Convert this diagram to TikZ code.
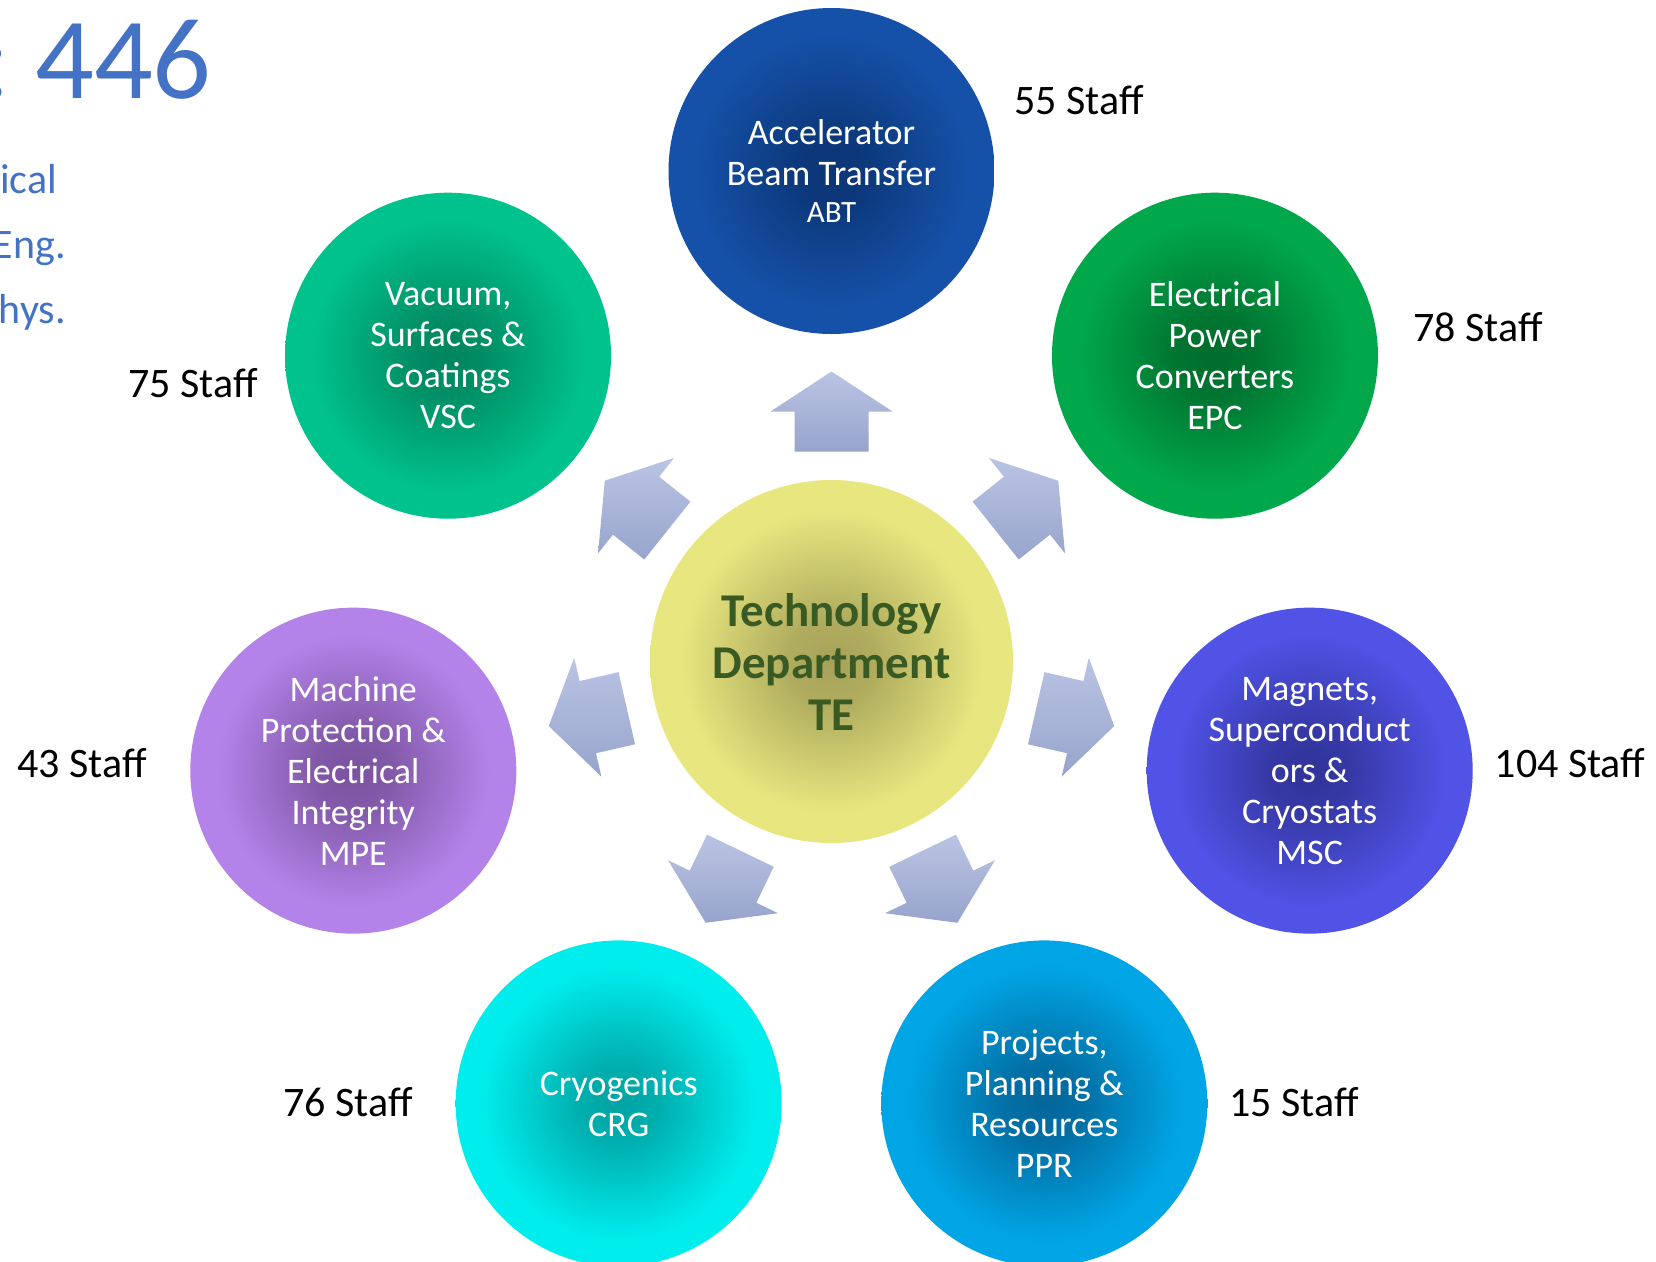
\documentclass[tikz,border=0pt]{standalone}
\usepackage{fontspec}
\setmainfont{Carlito}
\usetikzlibrary{calc}

% palette
\definecolor{titleblue}{HTML}{4472C4}
\definecolor{tegreen}{HTML}{3A5A23}
\definecolor{spoketop}{HTML}{BAC4E4}
\definecolor{spokebot}{HTML}{97A4CC}
\definecolor{abtin}{HTML}{0B3575}\definecolor{abtout}{HTML}{1551A8}
\definecolor{epcin}{HTML}{006C2C}\definecolor{epcout}{HTML}{00A84B}
\definecolor{vscin}{HTML}{00855E}\definecolor{vscout}{HTML}{00C28D}
\definecolor{mscin}{HTML}{313399}\definecolor{mscout}{HTML}{5053E6}
\definecolor{pprin}{HTML}{03669A}\definecolor{pprout}{HTML}{00A5E5}
\definecolor{crgin}{HTML}{00A3A3}\definecolor{crgout}{HTML}{00EDED}
\definecolor{mpein}{HTML}{7A529E}\definecolor{mpeout}{HTML}{B483EA}
\definecolor{tein}{HTML}{A6A259}\definecolor{teout}{HTML}{E8E77F}

% radial fill: dark core fading to the rim colour (the rim sits at 25bp)
\colorlet{orbin}{black}\colorlet{orbout}{white}
\pgfdeclareradialshading[orbin,orbout]{orb}{\pgfpoint{0bp}{0bp}}%
  {color(0bp)=(orbin); color(6bp)=(orbin!85!orbout); color(13bp)=(orbin!45!orbout);
   color(21bp)=(orbout); color(25bp)=(orbout); color(50bp)=(orbout)}

\tikzset{
  orbfill/.style 2 args={/utils/exec={\colorlet{orbin}{#1}\colorlet{orbout}{#2}},
    shade, shading=orb},
  unit/.style 2 args={circle, minimum size=326pt, inner sep=0pt, orbfill={#1}{#2},
    text=white, align=center, font=\fontsize{36}{41}\selectfont},
  hub/.style={circle, minimum size=363pt, inner sep=0pt, orbfill={tein}{teout},
    text=tegreen, align=center, font=\bfseries\fontsize{47}{52}\selectfont},
  staff/.style={inner sep=0pt, text=black, font=\fontsize{42}{50}\selectfont},
  sidetext/.style={anchor=base east, inner sep=0pt, text=titleblue,
    font=\fontsize{42}{50}\selectfont},
  bigtext/.style={inner sep=0pt, text=titleblue, font=\fontsize{116}{116}\selectfont},
  spokefill/.style={top color=spoketop, bottom color=spokebot, draw=none},
}

% block arrow pointing out of the hub at screen angle #1
\newcommand\spoke[1]{%
  \path[spokefill]
    ($(te.center)+(#1:210)+(#1+90:37)$)
    -- ($(te.center)+(#1:250)+(#1+90:37)$)
    -- ($(te.center)+(#1:250)+(#1+90:61)$)
    -- ($(te.center)+(#1:290)$)
    -- ($(te.center)+(#1:250)+(#1-90:61)$)
    -- ($(te.center)+(#1:250)+(#1-90:37)$)
    -- ($(te.center)+(#1:210)+(#1-90:37)$) -- cycle;}

\begin{document}
\begin{tikzpicture}[x=1pt, y=-1pt]
  \useasboundingbox (0,0) rectangle (1656,1261);
  \clip (0,0) rectangle (1656,1261);
  \fill[white] (0,0) rectangle (1656,1261);

  % heading block at the left edge
  \node[bigtext, anchor=base east] (colon) at (11,98) {:};
  \node[bigtext, anchor=base west] (total) at (35,98) {446};
  \node[sidetext] (side1) at (57,193) {Electrical};
  \node[sidetext] (side2) at (66,258) {Eng.};
  \node[sidetext] (side3) at (66,323) {Phys.};

  % hub
  \node[hub] (te) at (831.5,661.5) {Technology\\Department\\TE};

  % arrows
  \foreach \k in {0,...,6}{
    \pgfmathsetmacro\ang{-90+\k*360/7}
    \spoke{\ang}
  }

  % groups around the hub
  \node[unit={abtin}{abtout}] (abt) at ($(te.center)+(-90:490.5)$)
    {Accelerator\\Beam Transfer\\[-4pt]{\fontsize{31}{37}\selectfont ABT}};
  \node[unit={epcin}{epcout}] (epc) at ($(te.center)+(-38.5714:490.5)$)
    {Electrical\\Power\\Converters\\EPC};
  \node[unit={mscin}{mscout}] (msc) at ($(te.center)+(12.8571:490.5)$)
    {Magnets,\\Superconduct\\ors \&\\Cryostats\\MSC};
  \node[unit={pprin}{pprout}] (ppr) at ($(te.center)+(64.2857:490.5)$)
    {Projects,\\Planning \&\\Resources\\PPR};
  \node[unit={crgin}{crgout}] (crg) at ($(te.center)+(115.7143:490.5)$)
    {Cryogenics\\CRG};
  \node[unit={mpein}{mpeout}] (mpe) at ($(te.center)+(167.1429:490.5)$)
    {Machine\\Protection \&\\Electrical\\Integrity\\MPE};
  \node[unit={vscin}{vscout}] (vsc) at ($(te.center)+(218.5714:490.5)$)
    {Vacuum,\\Surfaces \&\\Coatings\\VSC};

  % head counts
  \node[staff] (nabt) at (1079,100) {55 Staff};
  \node[staff] (nepc) at (1478,327) {78 Staff};
  \node[staff] (nvsc) at (193,383) {75 Staff};
  \node[staff] (nmpe) at (82,763) {43 Staff};
  \node[staff] (nmsc) at (1570,763) {104 Staff};
  \node[staff] (ncrg) at (348,1102) {76 Staff};
  \node[staff] (nppr) at (1294,1102) {15 Staff};
\end{tikzpicture}
\end{document}
